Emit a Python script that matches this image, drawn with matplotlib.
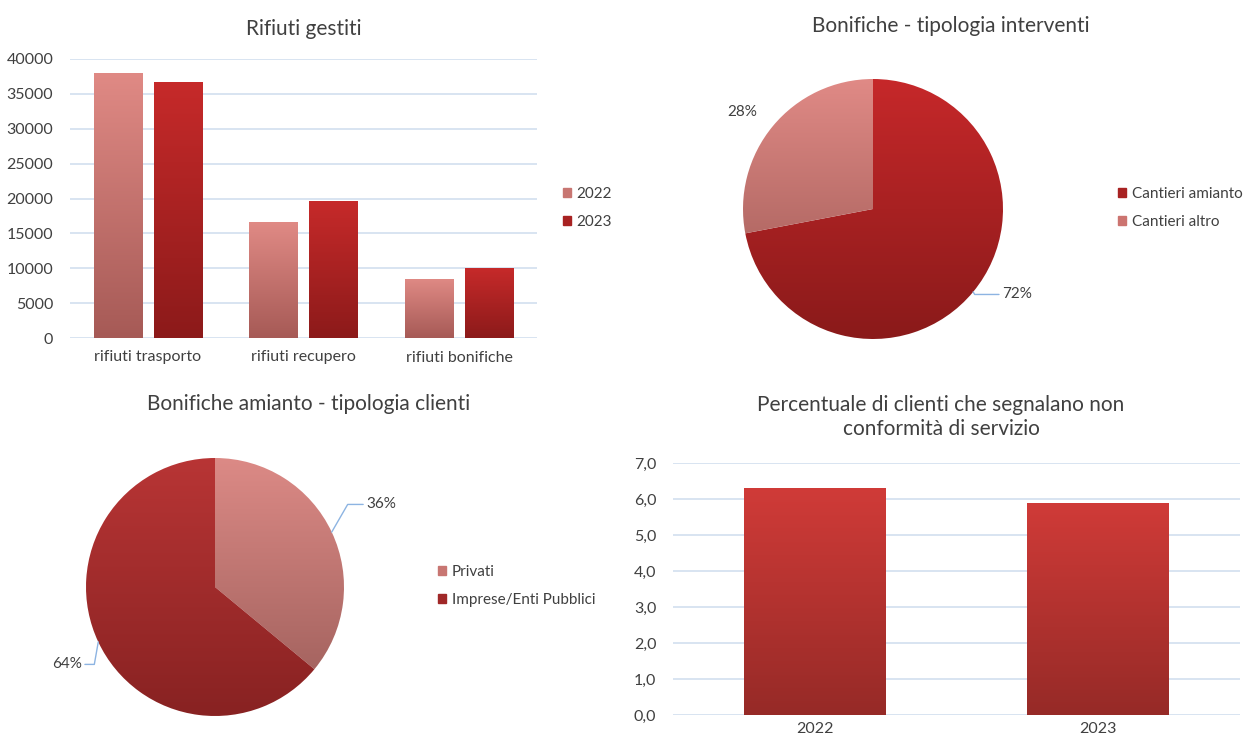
import numpy as np
import matplotlib
matplotlib.use('Agg')
import matplotlib.pyplot as plt
from matplotlib.colors import LinearSegmentedColormap
from matplotlib.patches import Patch

plt.rcParams['font.family'] = ['Lato', 'DejaVu Sans']
plt.rcParams['text.color'] = '#404040'
plt.rcParams['xtick.color'] = '#404040'
plt.rcParams['ytick.color'] = '#404040'

# data
rif_cats = ['rifiuti trasporto', 'rifiuti recupero', 'rifiuti bonifiche']
rif_2022 = [38000, 16600, 8500]
rif_2023 = [36700, 19600, 10000]

interv_labels = ['Cantieri amianto', 'Cantieri altro']
interv_vals = [72, 28]

clienti_labels = ['Privati', 'Imprese/Enti Pubblici']
clienti_vals = [36, 64]

nc_years = ['2022', '2023']
nc_vals = [6.3, 5.9]

W, H = 1251, 740
gridcol = '#D6E2F0'
leadcol = '#8DB4E2'

def box(l, t, r, b):
    return [l / W, 1 - b / H, (r - l) / W, (b - t) / H]

def grad(ax, patch, top, bottom, extent):
    cmap = LinearSegmentedColormap.from_list('g', [bottom, top])
    im = ax.imshow(np.linspace(0, 1, 256).reshape(-1, 1), cmap=cmap, origin='lower',
                   extent=extent, aspect='auto', zorder=patch.get_zorder(),
                   interpolation='bicubic')
    im.set_clip_path(patch)
    patch.set_facecolor('none')

def style_bar_axes(ax):
    for s in ax.spines.values():
        s.set_visible(False)
    ax.tick_params(length=0, labelsize=11.5)
    ax.yaxis.grid(True, color=gridcol, linewidth=1.3)
    ax.set_axisbelow(True)

leg_kw = dict(frameon=False, fontsize=11, handlelength=0.55, handleheight=0.55,
              handletextpad=0.35, labelspacing=0.95, borderaxespad=0, borderpad=0)

fig = plt.figure(figsize=(W / 100, H / 100), dpi=100)

# --- Rifiuti gestiti
ax1 = fig.add_axes(box(70, 59, 537, 338))
x = np.arange(len(rif_cats))
bw = 0.31; off = 0.193
b22 = ax1.bar(x - off, rif_2022, bw, edgecolor='none')
b23 = ax1.bar(x + off, rif_2023, bw, edgecolor='none')
for r in b22:
    grad(ax1, r, '#E08A85', '#A65A56', [r.get_x(), r.get_x() + r.get_width(), 0, r.get_height()])
for r in b23:
    grad(ax1, r, '#C62A2A', '#8C1A1A', [r.get_x(), r.get_x() + r.get_width(), 0, r.get_height()])
ax1.set_xlim(-0.5, 2.5)
ax1.set_ylim(0, 40000)
ax1.set_yticks(np.arange(0, 40001, 5000))
ax1.set_xticks(x)
ax1.set_xticklabels(rif_cats, fontsize=12)
style_bar_axes(ax1)
ax1.tick_params(axis='x', pad=9)
ax1.tick_params(axis='y', pad=12)
ax1.set_title('Rifiuti gestiti', fontsize=15, pad=17)
fig.legend(handles=[Patch(color='#C87672', label='2022'), Patch(color='#A82222', label='2023')],
           loc='center left', bbox_to_anchor=(563 / W, 1 - 208 / H), **leg_kw)

# --- Bonifiche - tipologia interventi
ax2 = fig.add_axes(box(743, 79, 1003, 339))
w2, _ = ax2.pie(interv_vals, startangle=90, counterclock=False, radius=1)
grad(ax2, w2[0], '#C6282A', '#8A1A1A', [-1, 1, -1, 1])
grad(ax2, w2[1], '#E08A86', '#985550', [-1, 1, -1, 1])
ax2.set_xlim(-1, 1); ax2.set_ylim(-1, 1); ax2.set_aspect('equal'); ax2.axis('off')
fig.text(951 / W, 1 - 26 / H, 'Bonifiche - tipologia interventi', fontsize=15, ha='center', va='center')
for wd, v, dx, dy in zip(w2, interv_vals, [0.22, -0.05], [0.02, -0.02]):
    a = np.radians((wd.theta1 + wd.theta2) / 2)
    ex, ey = np.cos(a), np.sin(a)
    if v > 50:
        ax2.annotate('%d%%' % v, xy=(ex, ey), xytext=(ex + dx, ey + dy - 0.04), ha='left', va='center',
                     fontsize=11, annotation_clip=False,
                     arrowprops=dict(arrowstyle='-', color=leadcol, lw=1, shrinkA=0, shrinkB=0,
                                     connectionstyle='angle,angleA=0,angleB=-60,rad=0'))
    else:
        ax2.annotate('%d%%' % v, xy=(ex * 1.2 - 0.08, ey * 1.2 - 0.02), ha='center', va='center',
                     fontsize=11, annotation_clip=False)
fig.legend(handles=[Patch(color='#A82222', label=interv_labels[0]),
                    Patch(color='#CC7470', label=interv_labels[1])],
           loc='center left', bbox_to_anchor=(1118 / W, 1 - 208 / H), **leg_kw)

# --- Bonifiche amianto - tipologia clienti
ax3 = fig.add_axes(box(86, 458, 344, 716))
w3, _ = ax3.pie(clienti_vals, startangle=90, counterclock=False, radius=1)
grad(ax3, w3[0], '#DC8A86', '#9A5C58', [-1, 1, -1, 1])
grad(ax3, w3[1], '#B83535', '#882222', [-1, 1, -1, 1])
ax3.set_xlim(-1, 1); ax3.set_ylim(-1, 1); ax3.set_aspect('equal'); ax3.axis('off')
fig.text(309 / W, 1 - 404 / H, 'Bonifiche amianto - tipologia clienti', fontsize=15, ha='center', va='center')
wd = w3[0]
a = np.radians((wd.theta1 + wd.theta2) / 2)
ax3.annotate('%d%%' % clienti_vals[0], xy=(np.cos(a), np.sin(a)), xytext=(1.17, 0.64),
             ha='left', va='center', fontsize=11, annotation_clip=False,
             arrowprops=dict(arrowstyle='-', color=leadcol, lw=1, shrinkA=0, shrinkB=0, relpos=(0, 0.5),
                             connectionstyle='angle,angleA=0,angleB=60,rad=0'))
wd = w3[1]
a = np.radians((wd.theta1 + wd.theta2) / 2)
ax3.annotate('%d%%' % clienti_vals[1], xy=(np.cos(a), np.sin(a)), xytext=(-1.03, -0.6),
             ha='right', va='center', fontsize=11, annotation_clip=False,
             arrowprops=dict(arrowstyle='-', color=leadcol, lw=1, shrinkA=0, shrinkB=0, relpos=(1, 0.5),
                             connectionstyle='angle,angleA=0,angleB=80,rad=0'))
fig.legend(handles=[Patch(color='#C87672', label=clienti_labels[0]),
                    Patch(color='#A02828', label=clienti_labels[1])],
           loc='center left', bbox_to_anchor=(438 / W, 1 - 586 / H), **leg_kw)

# --- Percentuale non conformita
ax4 = fig.add_axes(box(673, 463, 1240, 715))
xb = np.arange(len(nc_years))
b4 = ax4.bar(xb, nc_vals, 0.5, edgecolor='none')
for r in b4:
    grad(ax4, r, '#D03B38', '#962A27', [r.get_x(), r.get_x() + r.get_width(), 0, r.get_height()])
ax4.set_xlim(-0.5, 1.5)
ax4.set_ylim(0, 7)
ticks = np.arange(0, 7.01, 1)
ax4.set_yticks(ticks)
ax4.set_yticklabels([('%.1f' % v).replace('.', ',') for v in ticks])
ax4.set_xticks(xb)
ax4.set_xticklabels(nc_years)
style_bar_axes(ax4)
ax4.tick_params(axis='x', pad=5)
ax4.tick_params(axis='y', pad=12)
fig.text(941 / W, 1 - 417 / H, 'Percentuale di clienti che segnalano non\nconformità di servizio',
         fontsize=15, ha='center', va='center', linespacing=1.25)

fig.savefig('out.png', dpi=100)
